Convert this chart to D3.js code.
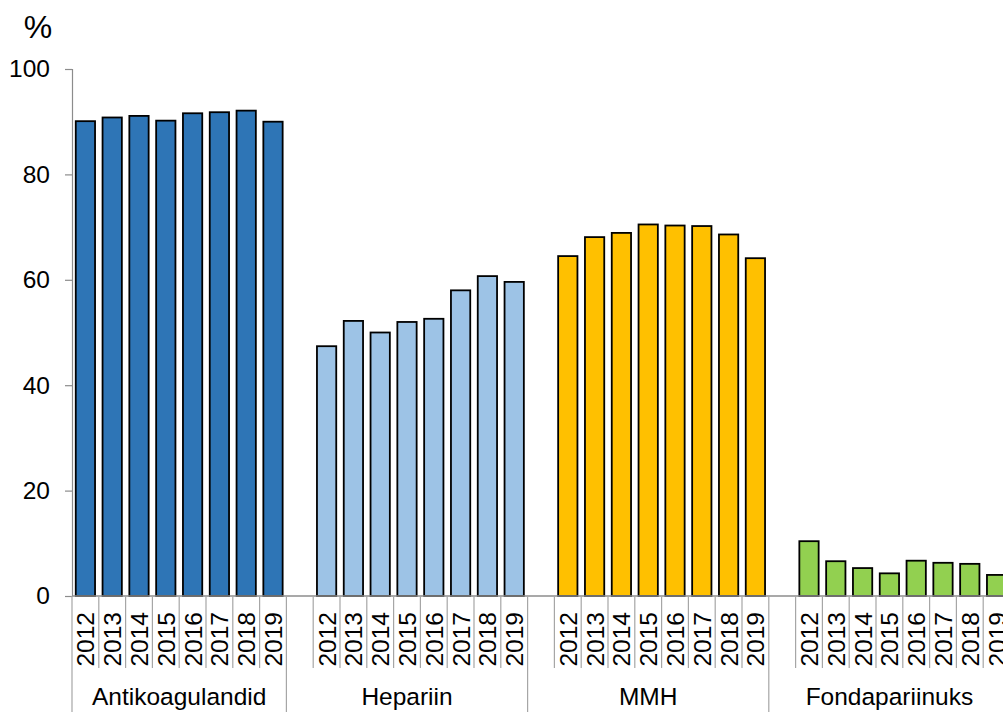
<!DOCTYPE html>
<html>
<head>
<meta charset="utf-8">
<script src="https://cdn.jsdelivr.net/npm/d3@7"></script>
<style>
  html, body { margin: 0; padding: 0; background: #fff; overflow: hidden; }
  svg { display: block; font-family: "Liberation Sans", Arial, sans-serif; }
</style>
</head>
<body>
<svg id="chart" width="1003" height="712"></svg>
<script>
// Share of patients (%) by drug group and year
const groups = ["Antikoagulandid", "Hepariin", "MMH", "Fondapariinuks"];
const years = ["2012", "2013", "2014", "2015", "2016", "2017", "2018", "2019"];
const antikoagulandid = [90.1, 90.8, 91.1, 90.2, 91.6, 91.8, 92.1, 90.0];
const hepariin = [47.4, 52.2, 50.0, 52.0, 52.6, 58.0, 60.7, 59.6];
const mmh = [64.5, 68.1, 68.9, 70.5, 70.3, 70.2, 68.6, 64.1];
const fondapariinuks = [10.4, 6.6, 5.3, 4.3, 6.7, 6.3, 6.1, 4.0];
const groupValues = [antikoagulandid, hepariin, mmh, fondapariinuks];
const groupColors = ["#2E75B6", "#9DC3E6", "#FFC000", "#92D050"];
const yTicks = [0, 20, 40, 60, 80, 100];

const svg = d3.select("#chart");
const margin = { left: 72, top: 69, axisY: 596 };
const step = 26.8;

// Category slots: every group after the first starts with an empty slot
const slots = [];
groups.forEach((g, gi) => {
  if (gi > 0) slots.push({ key: "gap-" + gi, group: gi, blank: true });
  years.forEach((yr, yi) => slots.push({ key: g + "|" + yr, group: gi, year: yr, value: groupValues[gi][yi] }));
});

const x = d3.scaleBand()
  .domain(slots.map(d => d.key))
  .range([margin.left, margin.left + slots.length * step])
  .paddingInner(0.28)
  .paddingOuter(0.14);

const y = d3.scaleLinear().domain([0, 100]).range([margin.axisY, margin.top]);

const slotLeft = k => x(k) - x.step() * x.paddingInner() / 2;

// Bars
svg.append("g")
  .selectAll("rect")
  .data(slots.filter(d => !d.blank))
  .join("rect")
  .attr("x", d => x(d.key))
  .attr("width", x.bandwidth())
  .attr("y", d => y(d.value))
  .attr("height", d => y(0) - y(d.value))
  .attr("fill", d => groupColors[d.group])
  .attr("stroke", "#000")
  .attr("stroke-width", 1.8);

// Y axis
const yAxis = svg.append("g")
  .attr("transform", `translate(${margin.left},0)`)
  .call(d3.axisLeft(y).tickValues(yTicks).tickSizeOuter(0).tickSize(7).tickPadding(15));
yAxis.select(".domain").attr("stroke", "#8c8c8c").attr("stroke-width", 1.2);
yAxis.selectAll(".tick line").attr("stroke", "#8c8c8c").attr("stroke-width", 1.2);
yAxis.selectAll(".tick text")
  .attr("font-size", 24.5)
  .attr("fill", "#000")
  .attr("font-family", "'Liberation Sans', Arial, sans-serif");

// Unit label
svg.append("text")
  .attr("x", 38).attr("y", 38)
  .attr("text-anchor", "middle")
  .attr("font-size", 32)
  .text("%");

// X baseline
const xEnd = margin.left + slots.length * step;
svg.append("line")
  .attr("x1", margin.left).attr("x2", xEnd)
  .attr("y1", y(0)).attr("y2", y(0))
  .attr("stroke", "#8c8c8c").attr("stroke-width", 1.6);

// Category boundaries: short between years, long between groups
const groupEnds = new Set();
const boundaries = [];
slots.forEach((d, i) => {
  const left = slotLeft(d.key);
  const long = i === 0 || d.blank;
  boundaries.push({ x: left, long });
});
boundaries.push({ x: xEnd, long: true });

svg.append("g")
  .selectAll("line")
  .data(boundaries)
  .join("line")
  .attr("x1", d => d.x).attr("x2", d => d.x)
  .attr("y1", y(0))
  .attr("y2", d => d.long ? 712 : 668)
  .attr("stroke", "#a6a6a6")
  .attr("stroke-width", 1.2);

// Year labels
svg.append("g")
  .selectAll("text")
  .data(slots.filter(d => !d.blank))
  .join("text")
  .attr("transform", d => `translate(${x(d.key) + x.bandwidth() / 2 + 9},612) rotate(-90)`)
  .attr("text-anchor", "end")
  .attr("font-size", 24.5)
  .text(d => d.year);

// Group labels, centred between the long boundaries
const longXs = boundaries.filter(b => b.long).map(b => b.x);
svg.append("g")
  .selectAll("text")
  .data(groups)
  .join("text")
  .attr("x", (g, i) => (longXs[i] + longXs[i + 1]) / 2)
  .attr("y", 705)
  .attr("text-anchor", "middle")
  .attr("font-size", 24.5)
  .text(g => g);
</script>
</body>
</html>
